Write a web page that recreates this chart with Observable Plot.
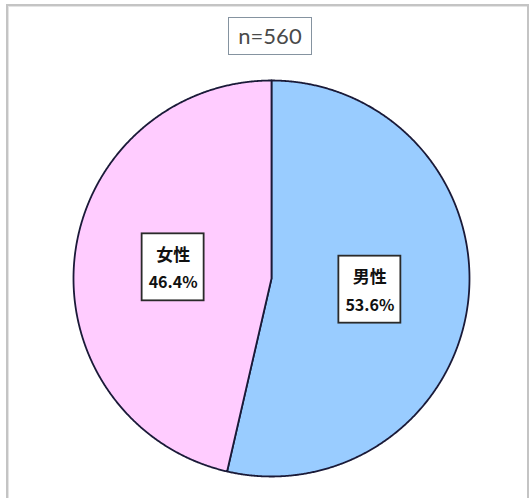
<!DOCTYPE html>
<html>
<head>
<meta charset="utf-8">
<script src="https://cdn.jsdelivr.net/npm/d3@7"></script>
<script src="https://cdn.jsdelivr.net/npm/@observablehq/plot@0.6"></script>
<style>
  html, body { margin: 0; padding: 0; background: #fff; overflow: hidden; }
  #wrap { position: relative; width: 529px; height: 498px; overflow: hidden; }
  #frame { position: absolute; left: 6px; top: 4px; width: 519px; height: 520px;
           border: 2px solid #c4c4c4; box-shadow: 1px 1px 0 #e4e4e4 inset; pointer-events: none; }
  #n { position: absolute; left: 228px; top: 17px; width: 82px; height: 36px;
       border: 1.5px solid #8593a0; background: #fff; color: #4a4a4a;
       font: 22px Lato, "Open Sans", sans-serif; text-align: center; line-height: 36px; }
  #chart { position: absolute; left: 0; top: 0; }
</style>
</head>
<body>
<div id="wrap">
  <div id="chart"></div>
  <div id="frame"></div>
  <div id="n"></div>
</div>
<script>
const categories = ["男性", "女性"];
const values = [53.6, 46.4];
const colors = ["#99CCFF", "#FFCCFF"];
const sampleLabel = "n=560";

document.getElementById("n").textContent = sampleLabel;

const arcs = d3.pie().sort(null).value(d => d.v)(categories.map((c, i) => ({c, v: values[i]})));

// polygon vertices for each slice (unit circle, angle clockwise from top)
const pts = [];
for (const a of arcs) {
  const c = a.data.c;
  pts.push({c, x: 0, y: 0});
  const n = Math.max(2, Math.ceil((a.endAngle - a.startAngle) / 0.005));
  for (let k = 0; k <= n; k++) {
    const t = a.startAngle + (a.endAngle - a.startAngle) * k / n;
    pts.push({c, x: Math.sin(t), y: Math.cos(t)});
  }
  pts.push({c, x: 0, y: 0});
}

const labels = arcs.map(a => {
  const m = (a.startAngle + a.endAngle) / 2;
  return {c: a.data.c, pct: a.data.v.toFixed(1) + "%", x: 0.5 * Math.sin(m), y: 0.5 * Math.cos(m)};
});

const pxPerUnit = 198;
const hw = 31 / pxPerUnit, hh = 33.5 / pxPerUnit;

const plot = Plot.plot({
  width: 529,
  height: 498,
  marginLeft: 73,
  marginRight: 60,
  marginTop: 80,
  marginBottom: 22,
  x: {domain: [-1, 1], axis: null},
  y: {domain: [-1, 1], axis: null},
  color: {domain: categories, range: colors},
  style: {fontFamily: "'Noto Sans CJK JP', 'Noto Sans', sans-serif", background: "transparent"},
  marks: [
    Plot.line(pts, {x: "x", y: "y", z: "c", fill: "c", stroke: "#1a1a38", strokeWidth: 1.8, curve: "linear", strokeLinejoin: "round"}),
    Plot.rect(labels, {x1: d => d.x - hw, x2: d => d.x + hw, y1: d => d.y - hh, y2: d => d.y + hh,
      fill: "#fff", stroke: "#2a2a2a", strokeWidth: 1.8}),
    Plot.text(labels, {x: "x", y: "y", text: "c", dy: -12, fontSize: 17, fontWeight: "bold", fill: "#111"}),
    Plot.text(labels, {x: "x", y: "y", text: "pct", dy: 16, fontSize: 16, fontWeight: "bold", fill: "#111"})
  ]
});
document.getElementById("chart").appendChild(plot);
</script>
</body>
</html>
